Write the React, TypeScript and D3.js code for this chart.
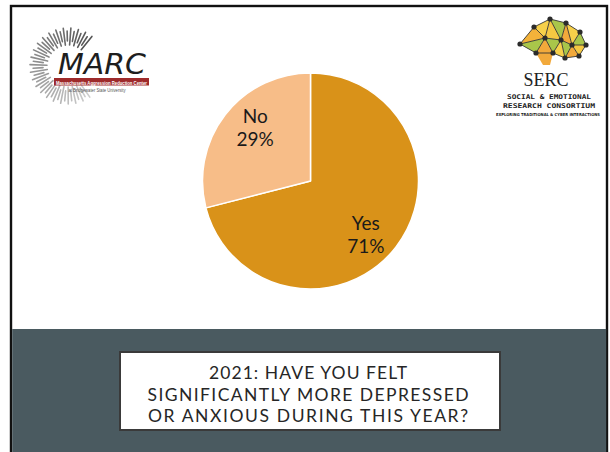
import React from "react";
import * as d3 from "d3";

// Survey answers and their shares (percent)
const answers = ["Yes", "No"];
const shares = [71, 29];
const sliceColors = ["#D99219", "#F7BD88"];

const titleLines = [
  "2021: HAVE YOU FELT",
  "SIGNIFICANTLY MORE DEPRESSED",
  "OR ANXIOUS DURING THIS YEAR?",
];

const W = 610;
const H = 452;
const FONT = "Lato, 'Open Sans', sans-serif";

function MarcLogo() {
  const cx = 68;
  const cy = 66;
  const rays: React.ReactNode[] = [];
  const start = (145 * Math.PI) / 180;
  const end = (399 * Math.PI) / 180;
  const n = 44;
  for (let i = 0; i <= n; i++) {
    const a = start + ((end - start) * i) / n;
    const long = i % 2 === 0;
    const r0 = long ? 21 : 25;
    const r1 = long ? 38 : 35;
    const t = i / n;
    const g = Math.round(205 - 120 * t);
    rays.push(
      <line
        key={i}
        x1={cx + r0 * Math.sin(a)}
        y1={cy - r0 * Math.cos(a)}
        x2={cx + r1 * Math.sin(a)}
        y2={cy - r1 * Math.cos(a)}
        stroke={`rgb(${g},${g},${g})`}
        strokeWidth={1.6}
        strokeLinecap="round"
      />
    );
  }
  return (
    <g>
      {rays}
      <text
        x={58}
        y={74}
        fontFamily="'DejaVu Sans', sans-serif"
        fontStyle="italic"
        fontSize={28}
        fill="#1e1e1e"
        textLength={88}
        lengthAdjust="spacingAndGlyphs"
      >
        MARC
      </text>
      <rect x={54} y={78} width={95} height={7.5} fill="#9e2a2b" />
      <text
        x={101.5}
        y={84.5}
        textAnchor="middle"
        fontFamily="'Liberation Sans Narrow', 'Liberation Sans', sans-serif"
        fontSize={5.5}
        fontWeight="bold"
        fill="#ffffff"
        textLength={91}
        lengthAdjust="spacingAndGlyphs"
      >
        Massachusetts Aggression Reduction Center
      </text>
      <text
        x={97}
        y={92}
        textAnchor="middle"
        fontFamily="'Liberation Sans', sans-serif"
        fontSize={5}
        fill="#555"
        textLength={57}
        lengthAdjust="spacingAndGlyphs"
      >
        at Bridgewater State University
      </text>
    </g>
  );
}

function SercLogo() {
  const nodes: [number, number][] = [
    [520, 44], // 0
    [534, 27], // 1
    [550, 19], // 2
    [566, 23], // 3
    [580, 32], // 4
    [586, 45], // 5
    [579, 56], // 6
    [565, 58], // 7
    [553, 53], // 8
    [536, 53], // 9
    [545, 38], // 10
    [561, 40], // 11
    [572, 45], // 12
  ];
  const tris: [number, number, number, string][] = [
    [0, 1, 10, "#F3B23A"],
    [1, 2, 10, "#F7D04A"],
    [2, 3, 11, "#A9C64A"],
    [2, 10, 11, "#F5C842"],
    [3, 4, 12, "#F7D04A"],
    [3, 11, 12, "#F2A93B"],
    [4, 5, 12, "#A9C64A"],
    [5, 6, 12, "#F5C842"],
    [6, 7, 12, "#F2A93B"],
    [7, 11, 12, "#A9C64A"],
    [7, 8, 11, "#F7D04A"],
    [8, 10, 11, "#A9C64A"],
    [8, 9, 10, "#F2A93B"],
    [0, 9, 10, "#A9C64A"],
  ];
  const edges = new Set<string>();
  tris.forEach(([a, b, c]) => {
    [[a, b], [b, c], [a, c]].forEach(([p, q]) =>
      edges.add(`${Math.min(p, q)}-${Math.max(p, q)}`)
    );
  });
  return (
    <g>
      <path d="M536,53 L553,53 L550,65 L543,65 Z" fill="#F2A93B" />
      {tris.map(([a, b, c, col], i) => (
        <polygon
          key={i}
          points={[nodes[a], nodes[b], nodes[c]].map((p) => p.join(",")).join(" ")}
          fill={col}
        />
      ))}
      {[...edges].map((e) => {
        const [p, q] = e.split("-").map(Number);
        return (
          <line
            key={e}
            x1={nodes[p][0]}
            y1={nodes[p][1]}
            x2={nodes[q][0]}
            y2={nodes[q][1]}
            stroke="#333"
            strokeWidth={0.9}
          />
        );
      })}
      {nodes.map((p, i) => (
        <circle key={i} cx={p[0]} cy={p[1]} r={2.6} fill="#2b2b2b" />
      ))}
      <text
        x={546}
        y={86}
        textAnchor="middle"
        fontFamily="'Liberation Serif', 'DejaVu Serif', serif"
        fontSize={18}
        fill="#222"
      >
        SERC
      </text>
      <text
        x={549}
        y={99}
        textAnchor="middle"
        fontFamily="'DejaVu Sans Mono', monospace"
        fontWeight="bold"
        fontSize={6.5}
        fill="#222"
        textLength={84}
        lengthAdjust="spacingAndGlyphs"
      >
        SOCIAL &amp; EMOTIONAL
      </text>
      <text
        x={549}
        y={108}
        textAnchor="middle"
        fontFamily="'DejaVu Sans Mono', monospace"
        fontWeight="bold"
        fontSize={6.5}
        fill="#222"
        textLength={92}
        lengthAdjust="spacingAndGlyphs"
      >
        RESEARCH CONSORTIUM
      </text>
      <text
        x={548}
        y={115.5}
        textAnchor="middle"
        fontFamily="'DejaVu Sans Condensed', 'DejaVu Sans', sans-serif"
        fontWeight="bold"
        fontSize={4}
        fill="#222"
        textLength={104}
        lengthAdjust="spacingAndGlyphs"
      >
        EXPLORING TRADITIONAL &amp; CYBER INTERACTIONS
      </text>
    </g>
  );
}

export default function App() {
  const cx = 310.5;
  const cy = 181;
  const radius = 108;

  const data = answers.map((a, i) => ({ answer: a, share: shares[i], color: sliceColors[i] }));
  const pie = d3
    .pie<{ answer: string; share: number; color: string }>()
    .sort(null)
    .value((d) => d.share);
  const arcs = pie(data);
  const arcGen = d3
    .arc<d3.PieArcDatum<{ answer: string; share: number; color: string }>>()
    .innerRadius(0)
    .outerRadius(radius);

  // labels sit inside each slice, slightly rotated clockwise from the mid-angle
  const labelRadius = 77;
  const labelTurn = 0.11;

  return (
    <svg
      width={W}
      height={H}
      viewBox={`0 0 ${W} ${H}`}
      style={{ position: "absolute", left: 0, top: 0, display: "block" }}
    >
      <rect x={0} y={0} width={W} height={H} fill="#ffffff" />
      {/* slide frame */}
      <rect x={11} y={6} width={596} height={H} fill="#ffffff" stroke="#111" strokeWidth={2.4} />
      {/* bottom band */}
      <rect x={12.2} y={329} width={594} height={H - 329} fill="#4A5A60" />

      <MarcLogo />
      <SercLogo />

      <g transform={`translate(${cx},${cy})`}>
        {arcs.map((a) => (
          <path
            key={a.data.answer}
            d={arcGen(a) || ""}
            fill={a.data.color}
            stroke="#ffffff"
            strokeWidth={1.5}
            strokeLinejoin="round"
          />
        ))}
        {arcs.map((a) => {
          const ang = (a.startAngle + a.endAngle) / 2 + labelTurn;
          const x = labelRadius * Math.sin(ang);
          const y = -labelRadius * Math.cos(ang);
          return (
            <g key={`l-${a.data.answer}`} fontFamily={FONT} fontSize={19} fill="#1a1a1a" textAnchor="middle">
              <text x={x} y={y - 4.5}>
                {a.data.answer}
              </text>
              <text x={x} y={y + 18.5}>
                {`${a.data.share}%`}
              </text>
            </g>
          );
        })}
      </g>

      {/* question box */}
      <rect x={120} y={352} width={380} height={78} fill="#ffffff" stroke="#3a3a3a" strokeWidth={2} />
      {titleLines.map((line, i) => {
        const baselines = [379, 401, 421.5];
        const widths = [198, 321, 320];
        return (
          <text
            key={i}
            x={308}
            y={baselines[i]}
            textAnchor="middle"
            fontFamily={FONT}
            fontSize={17.5}
            fill="#262626"
            textLength={widths[i]}
            lengthAdjust="spacing"
          >
            {line}
          </text>
        );
      })}
    </svg>
  );
}
